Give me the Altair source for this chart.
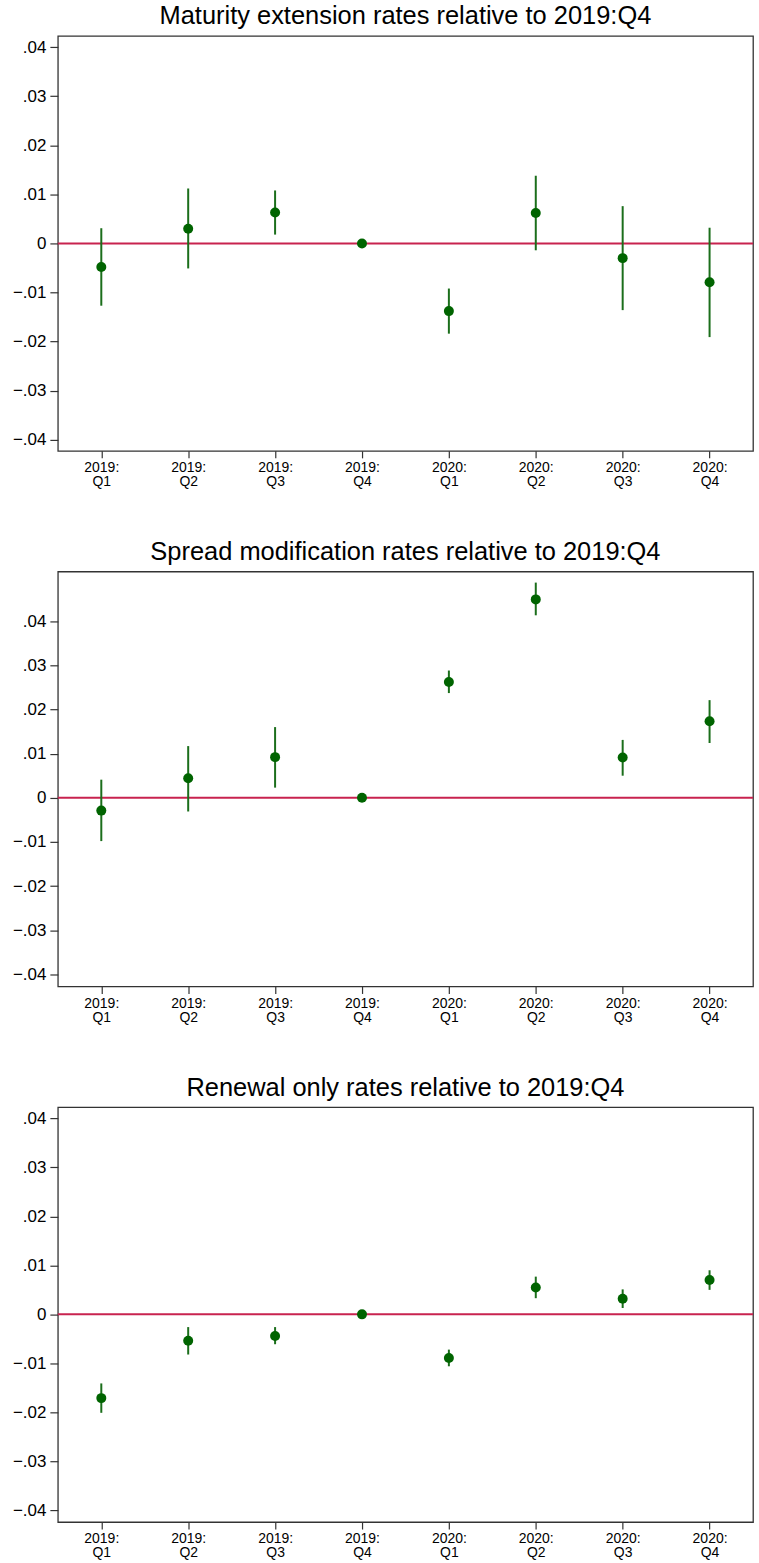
import altair as alt
import pandas as pd

# Quarters on the x axis
periods = ["2019:Q1", "2019:Q2", "2019:Q3", "2019:Q4",
           "2020:Q1", "2020:Q2", "2020:Q3", "2020:Q4"]

# Point estimates and 95% confidence bounds, relative to 2019:Q4
maturity_est = [-0.0048, 0.0030, 0.0063, 0.0, -0.0138, 0.0062, -0.0030, -0.0079]
maturity_lo = [-0.0127, -0.0051, 0.0018, 0.0, -0.0184, -0.0014, -0.0136, -0.0191]
maturity_hi = [0.0031, 0.0112, 0.0108, 0.0, -0.0092, 0.0138, 0.0076, 0.0032]

spread_est = [-0.0029, 0.0044, 0.0092, 0.0, 0.0262, 0.0449, 0.0091, 0.0173]
spread_lo = [-0.0098, -0.0031, 0.0023, 0.0, 0.0237, 0.0413, 0.0050, 0.0124]
spread_hi = [0.0041, 0.0117, 0.0160, 0.0, 0.0288, 0.0487, 0.0131, 0.0221]

renewal_est = [-0.0171, -0.0054, -0.0044, 0.0, -0.0089, 0.0055, 0.0032, 0.0070]
renewal_lo = [-0.0201, -0.0082, -0.0061, 0.0, -0.0106, 0.0033, 0.0013, 0.0050]
renewal_hi = [-0.0141, -0.0026, -0.0026, 0.0, -0.0072, 0.0077, 0.0051, 0.0090]

y_ticks = [-0.04, -0.03, -0.02, -0.01, 0.0, 0.01, 0.02, 0.03, 0.04]

FONT = "Liberation Sans"
RED = "#C8234F"
GREEN_LINE = "#1B6E1B"
GREEN_DOT = "#006400"


def panel(title, est, lo, hi, y_domain):
    df = pd.DataFrame({"period": periods, "est": est, "lo": lo, "hi": hi})
    ref = pd.DataFrame({"ref": [0.0]})

    x_axis = alt.Axis(
        title=None,
        labelExpr="[split(datum.label, ':')[0] + ':', split(datum.label, ':')[1]]",
        labelAngle=0,
        labelFontSize=14,
        labelLineHeight=14,
        labelPadding=3,
        tickSize=7,
    )
    x = alt.X("period:N", sort=periods,
              scale=alt.Scale(type="point", padding=0.5), axis=x_axis)

    y_scale = alt.Scale(domain=y_domain, nice=False, zero=False)
    y_axis = alt.Axis(
        title=None,
        values=y_ticks,
        labelExpr="datum.value == 0 ? '0' : replace(format(datum.value, '.2f'), '0.', '.')",
        labelFontSize=17,
        labelPadding=4,
        tickSize=8,
        minExtent=52,
        maxExtent=52,
    )

    zero = alt.Chart(ref).mark_rule(color=RED, strokeWidth=2).encode(
        y=alt.Y("ref:Q", scale=y_scale, axis=y_axis)
    )
    ci = alt.Chart(df).mark_rule(color=GREEN_LINE, strokeWidth=2).encode(
        x=x,
        y=alt.Y("lo:Q", scale=y_scale, axis=y_axis),
        y2="hi:Q",
    )
    pts = alt.Chart(df).mark_circle(color=GREEN_DOT, size=100, opacity=1).encode(
        x=x,
        y=alt.Y("est:Q", scale=y_scale, axis=y_axis),
    )
    return alt.layer(zero, ci, pts).properties(
        width=697, height=416, title=alt.Title(title)
    )


p1 = panel("Maturity extension rates relative to 2019:Q4",
           maturity_est, maturity_lo, maturity_hi, [-0.0423, 0.0423])
p2 = panel("Spread modification rates relative to 2019:Q4",
           spread_est, spread_lo, spread_hi, [-0.0427, 0.0512])
p3 = panel("Renewal only rates relative to 2019:Q4",
           renewal_est, renewal_lo, renewal_hi, [-0.0424, 0.0423])

chart = (
    alt.vconcat(p1, p2, p3, spacing=49)
    .properties(padding={"left": 5, "top": 1, "right": 4, "bottom": 2},
                background="white")
    .configure_view(stroke="#333333", strokeWidth=1.3)
    .configure_axis(labelFont=FONT, labelColor="black", domain=False,
                    grid=False, tickColor="#333333", tickWidth=1.2)
    .configure_title(font=FONT, fontSize=25.5, fontWeight="normal",
                     color="black", anchor="middle", offset=6)
)

chart.save("out.html", embed_options={"renderer": "svg", "actions": False})
